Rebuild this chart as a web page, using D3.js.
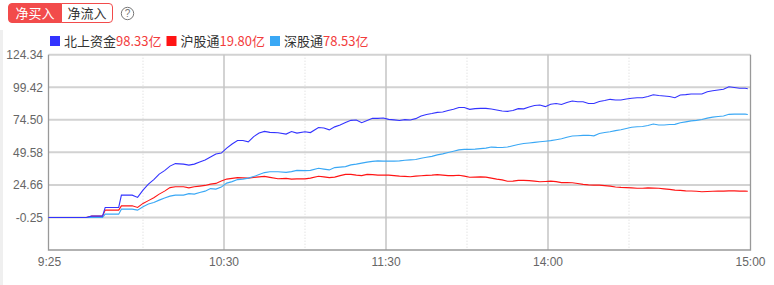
<!DOCTYPE html>
<html>
<head>
<meta charset="utf-8">
<script src="https://cdn.jsdelivr.net/npm/d3@7"></script>
<style>
  body { margin: 0; background: #fff; }
  svg { display: block; font-family: Arial, "Liberation Sans", "Noto Sans CJK SC", sans-serif; }
</style>
</head>
<body>
<div id="chart"></div>
<script>
// position index along the session axis (9:25 at 0, right edge at 260)
const idx = [0, 14, 16, 20, 21, 26, 27, 31, 33, 35, 37, 39, 41, 43, 45, 47, 50, 52, 54, 56, 58, 60, 62, 64, 66, 68, 70,
  72, 74, 76, 78, 80, 82, 85, 88, 90, 92, 95, 97, 100, 102, 104, 106, 108, 110, 112, 114, 116, 118, 120, 122, 124,
  126, 128, 130, 132, 134, 136, 138, 140, 142, 144, 146, 148, 150, 152, 154, 156, 158, 160, 162, 164, 166, 168, 170,
  172, 174, 176, 178, 180, 182, 184, 186, 188, 190, 192, 194, 196, 198, 200, 202, 204, 206, 208, 210, 212, 214, 216,
  218, 220, 222, 224, 226, 228, 230, 232, 234, 236, 238, 240, 242, 244, 246, 248, 250, 252, 254, 256, 258, 259];

// 北上资金
const north = [-0.25, -0.25, 0.75, 0.75, 7.41, 7.41, 16.84, 16.84, 15.08, 20.67, 25.27, 28.72, 32.93, 35.61, 39.06, 40.98,
  40.59, 39.83, 40.59, 42.13, 43.66, 45.96, 48.26, 49.02, 52.85, 55.92, 58.6, 58.6, 57.68, 61.67, 64.35, 65.65, 64.89,
  64.58, 63.58, 65.5, 64.35, 65.35, 64.73, 68.56, 68.18, 66.8, 69.1, 70.48, 72.39, 74.08, 74.31, 72.24, 73.93, 75.61,
  75.61, 75.84, 74.85, 74.46, 73.93, 74.62, 74.31, 75.38, 77.38, 78.53, 79.29, 80.21, 80.44, 81.59, 82.51, 83.89, 83.89,
  82.51, 83.05, 83.28, 83.28, 82.74, 81.97, 81.21, 80.98, 81.59, 83.05, 82.89, 84.27, 85.42, 85.8, 84.58, 86.42, 87.03,
  86.19, 87.72, 88.87, 88.33, 88.33, 86.96, 86.96, 88.49, 89.26, 90.17, 89.64, 89.64, 90.4, 91.02, 91.4, 91.4, 92.32,
  93.62, 93.08, 92.7, 92.32, 91.4, 93.47, 93.78, 94.24, 94.24, 94.24, 96.0, 96.69, 97.3, 97.84, 99.75, 99.22, 98.6, 98.6, 98.33];

// 沪股通
const sh = [-0.25, -0.25, 0.75, 0.75, 5.34, 5.34, 8.64, 8.64, 7.41, 10.48, 12.62, 14.85, 17.6, 19.9, 22.59, 23.2,
  23.2, 22.43, 23.2, 23.74, 24.27, 25.27, 25.8, 27.57, 29.1, 29.64, 30.25, 30.02, 29.87, 30.4, 30.79, 31.17, 30.4,
  29.33, 29.64, 29.1, 29.25, 29.25, 29.87, 31.25, 30.79, 30.25, 30.63, 31.78, 32.7, 32.7, 32.16, 31.78, 32.7, 32.55,
  32.16, 32.16, 32.16, 31.78, 31.4, 31.17, 30.86, 31.4, 31.63, 31.93, 32.16, 32.55, 32.16, 31.78, 31.78, 32.01, 31.4,
  30.48, 30.63, 30.79, 30.63, 29.87, 29.1, 28.49, 27.41, 27.57, 28.1, 28.1, 27.95, 27.57, 27.03, 27.26, 27.57, 27.18,
  26.42, 26.42, 26.34, 25.8, 25.04, 24.65, 24.5, 24.5, 24.12, 23.74, 23.05, 22.74, 22.59, 22.36, 22.05, 22.13, 22.36,
  22.2, 22.05, 21.59, 21.21, 20.67, 20.44, 20.13, 19.98, 19.75, 19.44, 19.6, 19.83, 19.9, 19.9, 20.13, 20.06, 19.9, 19.9, 19.80];

// 深股通
const sz = [-0.25, -0.25, -0.25, -0.25, 2.28, 2.28, 6.11, 6.11, 5.34, 7.87, 10.09, 11.24, 13.01, 14.69, 16.07, 16.84,
  16.84, 17.99, 17.6, 18.91, 19.9, 21.82, 21.44, 22.97, 26.03, 27.18, 28.72, 29.1, 29.87, 31.02, 32.55, 34.08, 34.69,
  34.69, 34.23, 34.85, 35.77, 35.61, 35.77, 37.38, 36.76, 36.15, 37.91, 38.3, 38.68, 39.98, 40.59, 41.36, 42.13, 42.66,
  43.05, 42.89, 42.89, 42.89, 43.05, 43.51, 43.81, 44.12, 45.04, 45.8, 46.49, 47.64, 48.41, 49.41, 50.4, 51.48, 51.86,
  51.86, 52.09, 52.47, 52.85, 53.62, 53.39, 53.31, 53.62, 54.69, 55.54, 56.3, 56.76, 57.22, 57.68, 58.07, 58.53, 59.29,
  59.98, 61.13, 62.05, 62.28, 62.59, 62.66, 62.2, 63.97, 64.73, 65.35, 66.19, 66.88, 67.8, 68.79, 69.18, 69.41, 70.1,
  71.25, 70.48, 70.48, 70.86, 71.02, 72.24, 72.93, 73.7, 74.08, 74.69, 75.77, 76.53, 76.99, 77.38, 78.68, 78.83, 78.91, 78.83, 78.53];

const seriesNames = ["北上资金", "沪股通", "深股通"];
const seriesColors = ["#3333ff", "#ff1414", "#3aa8f5"];
const seriesLast = ["98.33亿", "19.80亿", "78.53亿"];

const yTicks = [-0.25, 24.66, 49.58, 74.50, 99.42, 124.34];
const yMin = -25.17;
const xLabels = ["9:25", "10:30", "11:30", "14:00", "15:00"];
const xLabelIdx = [0, 65, 125, 185, 260];
const xMajorIdx = [65, 125, 185];
const xMinorIdx = [35, 95, 155, 215];

const W = 774, H = 285;
const pLeft = 48.5, pRight = 750.5, pTop = 54.7, pBottom = 250;

const svg = d3.select("#chart").append("svg")
    .attr("width", W)
    .attr("height", H);

// faint left strip
svg.append("rect").attr("x", 0).attr("y", 30).attr("width", 3).attr("height", H - 30).attr("fill", "#efefef");

const x = d3.scaleLinear().domain([0, 260]).range([pLeft, pRight]);
const y = d3.scaleLinear().domain([yMin, 124.34]).range([pBottom, pTop]);

// toggle buttons
const btn = svg.append("g").attr("font-family", "'Noto Sans CJK SC', sans-serif").attr("font-size", 13);
btn.append("path")
    .attr("d", "M 61.5 3.5 L 12 3.5 Q 8.5 3.5 8.5 7 L 8.5 19 Q 8.5 22.5 12 22.5 L 61.5 22.5 Z")
    .attr("fill", "#f24b4b").attr("stroke", "#f24b4b");
btn.append("path")
    .attr("d", "M 61.5 3.5 L 109 3.5 Q 112.5 3.5 112.5 7 L 112.5 19 Q 112.5 22.5 109 22.5 L 61.5 22.5 Z")
    .attr("fill", "#fff").attr("stroke", "#f24b4b");
btn.append("text").attr("x", 35).attr("y", 17.5).attr("text-anchor", "middle").attr("fill", "#fff").text("净买入");
btn.append("text").attr("x", 87).attr("y", 17.5).attr("text-anchor", "middle").attr("fill", "#333").text("净流入");

// help icon
svg.append("circle").attr("cx", 127.5).attr("cy", 13.5).attr("r", 6.2)
    .attr("fill", "none").attr("stroke", "#777").attr("stroke-width", 1);
svg.append("text").attr("x", 127.5).attr("y", 17.3).attr("text-anchor", "middle")
    .attr("font-size", 10).attr("fill", "#777").text("?");

// legend
const legend = svg.append("g").attr("font-family", "'Noto Sans CJK SC', sans-serif").attr("font-size", 13);
let lx = 50;
seriesNames.forEach((name, i) => {
    legend.append("rect").attr("x", lx).attr("y", 36).attr("width", 10).attr("height", 10).attr("fill", seriesColors[i]);
    const t = legend.append("text").attr("x", lx + 14).attr("y", 46);
    t.append("tspan").attr("fill", "#333").text(name);
    t.append("tspan").attr("fill", "#f23c3c").text(seriesLast[i]);
    lx = lx + 14 + t.node().getComputedTextLength() + 5;
});

// horizontal gridlines
svg.append("g").selectAll("line")
    .data(yTicks)
    .enter().append("line")
    .attr("x1", pLeft).attr("x2", pRight)
    .attr("y1", d => y(d)).attr("y2", d => y(d))
    .attr("stroke", "#d2d2d2").attr("stroke-width", 2);

// vertical gridlines
svg.append("g").selectAll("line")
    .data(xMinorIdx)
    .enter().append("line")
    .attr("x1", d => x(d)).attr("x2", d => x(d))
    .attr("y1", pTop).attr("y2", pBottom)
    .attr("stroke", "#d6d6d6").attr("stroke-dasharray", "1,2");
svg.append("g").selectAll("line")
    .data(xMajorIdx)
    .enter().append("line")
    .attr("x1", d => x(d)).attr("x2", d => x(d))
    .attr("y1", pTop).attr("y2", pBottom)
    .attr("stroke", "#c4c4c4").attr("stroke-width", 1.5);

// frame
svg.append("path")
    .attr("d", `M ${pLeft} ${pTop} L ${pLeft} ${pBottom} L ${pRight} ${pBottom} L ${pRight} ${pTop}`)
    .attr("fill", "none").attr("stroke", "#999").attr("stroke-width", 1.3);

// y labels
svg.append("g").selectAll("text")
    .data(yTicks)
    .enter().append("text")
    .attr("x", 43).attr("y", d => y(d) + 4.5)
    .attr("text-anchor", "end")
    .attr("font-size", 12).attr("fill", "#666")
    .text(d => d.toFixed(2));

// x labels
svg.append("g").selectAll("text")
    .data(xLabels)
    .enter().append("text")
    .attr("x", (d, i) => x(xLabelIdx[i]) + (i === 0 ? 1 : 0))
    .attr("y", 266)
    .attr("text-anchor", "middle")
    .attr("font-size", 12).attr("fill", "#666")
    .text(d => d);

// lines
const line = d3.line()
    .x((d, i) => x(idx[i]))
    .y(d => y(d));

[sh, sz, north].forEach((vals, k) => {
    const color = [seriesColors[1], seriesColors[2], seriesColors[0]][k];
    svg.append("path")
        .datum(vals)
        .attr("d", line)
        .attr("fill", "none")
        .attr("stroke", color)
        .attr("stroke-width", 1.1);
});
</script>
</body>
</html>
